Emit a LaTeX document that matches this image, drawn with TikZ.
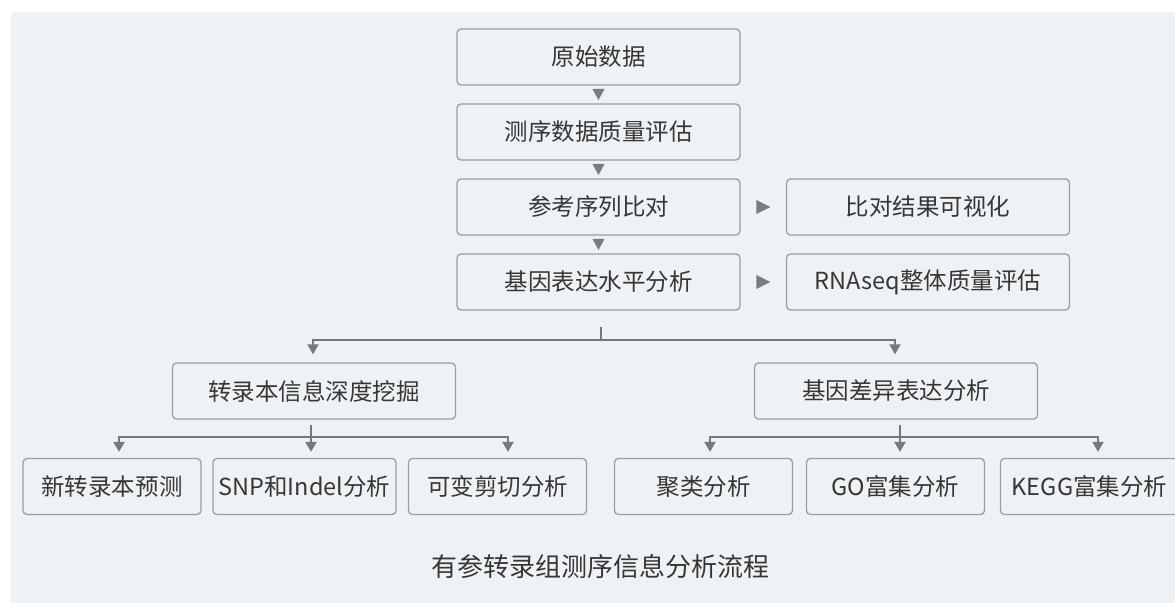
\documentclass[tikz,border=0pt]{standalone}
\usepackage{fontspec}
\setmainfont{Noto Sans CJK SC}
\newfontfamily\cjk{Noto Sans CJK SC}
\usetikzlibrary{arrows.meta,calc}
\definecolor{panel}{HTML}{EFF2F5}
\definecolor{boxline}{HTML}{9C9FA2}
\definecolor{txt}{HTML}{363636}
\definecolor{conn}{HTML}{76797C}
\definecolor{tri}{HTML}{7A7D80}
\begin{document}
\begin{tikzpicture}[x=1bp,y=-1bp,
  box/.style={draw=boxline, fill=panel, line width=1.3bp, rounded corners=4bp,
    minimum height=56bp, inner sep=0pt, text=txt,
    font=\cjk\fontsize{23.5bp}{28bp}\selectfont},
  wide/.style={box, minimum width=283bp},
  small/.style={box, minimum width=178bp},
  tree/.style={draw=conn, line width=2bp},
  treearrow/.style={tree, -{Triangle[width=11bp,length=10bp]}},
  dtri/.pic={\fill[tri] (-6,-5.5) -- (6,-5.5) -- (0,5.5) -- cycle;},
  rtri/.pic={\fill[tri] (-7,-7) -- (7,0) -- (-7,7) -- cycle;}
]
\path[use as bounding box, clip] (0,0) rectangle (1175,603);
\fill[white] (0,0) rectangle (1175,603);
\fill[panel, rounded corners=5bp] (11,640) -- (11,12) -- (1200,12) -- (1200,640) -- cycle;

% main column
\node[wide] (n1) at (598.5,57) {原始数据};
\node[wide] (n2) at (598.5,132) {测序数据质量评估};
\node[wide] (n3) at (598.5,207) {参考序列比对};
\node[wide] (n4) at (598.5,282) {基因表达水平分析};
\node[wide] (r3) at (928,207) {比对结果可视化};
\node[wide] (r4) at (928,282) {RNAseq整体质量评估};

\pic at ($(n1.south)!0.5!(n2.north)$) {dtri};
\pic at ($(n2.south)!0.5!(n3.north)$) {dtri};
\pic at ($(n3.south)!0.5!(n4.north)$) {dtri};
\pic at ($(n3.east)!0.5!(r3.west)$) {rtri};
\pic at ($(n4.east)!0.5!(r4.west)$) {rtri};

% second level
\node[wide] (L) at (314,391) {转录本信息深度挖掘};
\node[wide] (R) at (896,391) {基因差异表达分析};

\coordinate (t0) at ([xshift=2bp,yshift=-16bp]n4.south);
\coordinate (t1) at ([xshift=2bp,yshift=-29bp]n4.south);
\draw[tree] (t0) -- (t1);
\draw[treearrow] (t1) -| ([xshift=-1bp,yshift=8bp]L.north);
\draw[treearrow] (t1) -| ([xshift=-1bp,yshift=8bp]R.north);

% bottom level
\node[small] (b1) at (112,486.5) {新转录本预测};
\node[small, minimum width=183bp] (b2) at (304.5,486.5) {SNP和Indel分析};
\node[small] (b3) at (497.5,486.5) {可变剪切分析};
\node[small] (b4) at (703.5,486.5) {聚类分析};
\node[small] (b5) at (895.5,486.5) {GO富集分析};
\node[small] (b6) at (1089.5,486.5) {KEGG富集分析};

\coordinate (u0) at ([xshift=-3bp,yshift=-5bp]L.south);
\coordinate (u1) at ([xshift=-3bp,yshift=-17bp]L.south);
\draw[tree] (u0) -- (u1);
\draw[treearrow] (u1) -| ([xshift=7bp,yshift=6bp]b1.north);
\draw[treearrow] (u1) -| ([xshift=6.5bp,yshift=6bp]b2.north);
\draw[treearrow] (u1) -| ([xshift=10.5bp,yshift=6bp]b3.north);

\coordinate (v0) at ([xshift=4bp,yshift=-5bp]R.south);
\coordinate (v1) at ([xshift=4bp,yshift=-17bp]R.south);
\draw[tree] (v0) -- (v1);
\draw[treearrow] (v1) -| ([xshift=6.5bp,yshift=6bp]b4.north);
\draw[treearrow] (v1) -| ([xshift=4.5bp,yshift=6bp]b5.north);
\draw[treearrow] (v1) -| ([xshift=8.5bp,yshift=6bp]b6.north);

% caption
\node[text=txt, font=\cjk\fontsize{26bp}{30bp}\selectfont] (cap) at (600,567) {有参转录组测序信息分析流程};
\end{tikzpicture}
\end{document}
